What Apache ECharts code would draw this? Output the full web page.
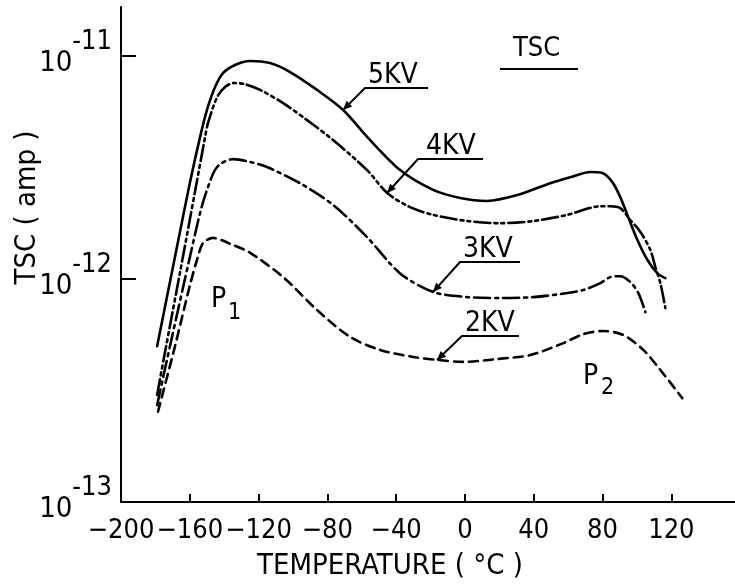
<!DOCTYPE html>
<html>
<head>
<meta charset="utf-8">
<script src="https://cdn.jsdelivr.net/npm/echarts@6/dist/echarts.min.js"></script>
<style>
  html, body { margin: 0; padding: 0; background: #fff; }
  #chart { width: 735px; height: 584px; }
</style>
</head>
<body>
<div id="chart"></div>
<script>
// temperature (deg C) and current (amp)
var t5kv = [-179, -168.6, -160, -154, -150, -145.3, -140.7, -133.7, -125, -113.3, -101.7, -86, -70.8, -56.9, -37.7, -18.5, -2.8, 12.9, 30.4, 49.6, 61.2, 72.9, 79.9, 85.7, 90.3, 94.4, 100.2, 106, 111.9, 116.5];
var i5kv = [5.0e-13, 1.26e-12, 2.69e-12, 4.34e-12, 5.73e-12, 7.26e-12, 8.39e-12, 9.12e-12, 9.5e-12, 9.3e-12, 8.48e-12, 7.05e-12, 5.73e-12, 4.34e-12, 3.08e-12, 2.51e-12, 2.31e-12, 2.24e-12, 2.38e-12, 2.69e-12, 2.86e-12, 3.02e-12, 2.99e-12, 2.72e-12, 2.33e-12, 1.94e-12, 1.50e-12, 1.22e-12, 1.06e-12, 1.01e-12];

var t4kv = [-179, -174.4, -165.7, -156.9, -151.1, -149.4, -144.1, -139.5, -134.8, -127.9, -119.1, -105.7, -91.8, -76.7, -56.9, -45.2, -31.9, -18.5, 1.3, 20.5, 39.7, 59.5, 78.7, 84.5, 90.3, 96.1, 101.9, 107.8, 110.7, 113.6, 116.5];
var i4kv = [3.02e-13, 4.71e-13, 1.07e-12, 2.48e-12, 4.34e-12, 5.01e-12, 6.55e-12, 7.26e-12, 7.57e-12, 7.48e-12, 7.05e-12, 6.15e-12, 5.16e-12, 4.20e-12, 3.08e-12, 2.43e-12, 2.10e-12, 1.94e-12, 1.82e-12, 1.78e-12, 1.82e-12, 1.94e-12, 2.12e-12, 2.12e-12, 2.08e-12, 1.84e-12, 1.63e-12, 1.35e-12, 1.13e-12, 9.6e-13, 7.41e-13];

var t3kv = [-179, -171.5, -159.9, -154, -150, -144.1, -134.8, -124.9, -115.1, -95.9, -76.7, -56.9, -37.7, -18.5, 1.3, 20.5, 39.7, 59.5, 68.8, 78.7, 84.5, 90.3, 96.1, 100.8, 104.9];
var i3kv = [2.72e-13, 5.01e-13, 1.26e-12, 1.98e-12, 2.51e-12, 3.18e-12, 3.45e-12, 3.35e-12, 3.18e-12, 2.69e-12, 2.15e-12, 1.54e-12, 1.06e-12, 8.75e-13, 8.30e-13, 8.22e-13, 8.30e-13, 8.65e-13, 8.93e-13, 9.59e-13, 1.02e-12, 1.03e-12, 9.7e-13, 8.65e-13, 7.11e-13];

var t2kv = [-178.5, -168.6, -159.9, -155.8, -152.3, -146.5, -136.6, -124.9, -105.7, -86, -66.8, -49.3, -30.1, -16.1, -1.0, 18.8, 38, 57.2, 68.8, 80.4, 92.1, 103.7, 113.6, 126.4];
var i2kv = [2.54e-13, 5.0e-13, 9.4e-13, 1.22e-12, 1.45e-12, 1.53e-12, 1.44e-12, 1.31e-12, 1.02e-12, 7.26e-13, 5.5e-13, 4.81e-13, 4.47e-13, 4.34e-13, 4.25e-13, 4.38e-13, 4.56e-13, 5.16e-13, 5.66e-13, 5.85e-13, 5.61e-13, 4.81e-13, 3.91e-13, 2.92e-13];

var xTicks = [-160, -120, -80, -40, 0, 40, 80, 120];
var xLabels = [-200, -160, -120, -80, -40, 0, 40, 80, 120];
var yTicks = [1e-12, 1e-11];
var yLabels = [1e-13, 1e-12, 1e-11];

var FONT = '"DejaVu Sans Condensed", "Liberation Sans Narrow", "DejaVu Sans", sans-serif';

function zip(t, v) {
    return t.map(function (x, i) { return [x, v[i]]; });
}

function curve(name, t, v, dash) {
    return {
        name: name,
        type: 'line',
        smooth: 0.3,
        symbol: 'none',
        silent: true,
        lineStyle: {color: '#000', width: 2.6, type: dash, cap: 'round'},
        data: zip(t, v)
    };
}

function kvLabel(text, tx, ty, x1, x2, tipX, tipY) {
    var dx = tipX - x1, dy = tipY - ty - 26;
    var len = Math.sqrt(dx * dx + dy * dy);
    var ux = dx / len, uy = dy / len;
    return [
        {type: 'text', left: tx, top: ty, style: {text: text, font: '28px ' + FONT, fill: '#000'}},
        {type: 'polyline', shape: {points: [[x2, ty + 26], [x1, ty + 26], [tipX, tipY]]},
            style: {stroke: '#000', lineWidth: 2, fill: null}},
        {type: 'polygon', shape: {points: [[tipX, tipY],
                [tipX - ux * 9 - uy * 4, tipY - uy * 9 + ux * 4],
                [tipX - ux * 9 + uy * 4, tipY - uy * 9 - ux * 4]]},
            style: {fill: '#000'}}
    ];
}

var chart = echarts.init(document.getElementById('chart'));

var graphics = [
    {type: 'text', left: 513, top: 35, style: {text: 'TSC', font: '27px ' + FONT, fill: '#000'}},
    {type: 'line', shape: {x1: 500, y1: 69, x2: 578, y2: 69}, style: {stroke: '#000', lineWidth: 2}},
    {type: 'text', left: 211, top: 286, style: {text: 'P', font: '28px ' + FONT, fill: '#000'}},
    {type: 'text', left: 228, top: 302, style: {text: '1', font: '23px ' + FONT, fill: '#000'}},
    {type: 'text', left: 583, top: 363, style: {text: 'P', font: '28px ' + FONT, fill: '#000'}},
    {type: 'text', left: 601, top: 377, style: {text: '2', font: '23px ' + FONT, fill: '#000'}}
];
graphics = graphics
    .concat(kvLabel('5KV', 368, 62, 365, 428, 343, 110))
    .concat(kvLabel('4KV', 426, 133, 418, 483, 387, 193))
    .concat(kvLabel('3KV', 463, 236, 460, 520, 433, 292))
    .concat(kvLabel('2KV', 465, 310, 462, 519, 437, 360));

var option = {
    animation: false,
    backgroundColor: '#fff',
    grid: {left: 121, right: 0, top: 7, bottom: 82, outerBoundsMode: 'none', containLabel: false},
    xAxis: {
        type: 'value',
        min: -200,
        max: 157,
        interval: 40,
        name: 'TEMPERATURE ( °C )',
        nameLocation: 'middle',
        nameGap: 50,
        nameMoveOverlap: false,
        nameTextStyle: {fontFamily: FONT, fontSize: 29, color: '#000', padding: [0, 76, 0, 0]},
        axisLine: {onZero: false, lineStyle: {color: '#000', width: 2}},
        axisTick: {inside: true, length: 8, lineStyle: {color: '#000', width: 2}, customValues: xTicks},
        axisLabel: {
            fontFamily: FONT, fontSize: 27, color: '#000', margin: 15,
            customValues: xLabels, hideOverlap: false, showMinLabel: true,
            formatter: function (v) { return String(v).replace('-', '\u2212'); }
        },
        splitLine: {show: false}
    },
    yAxis: {
        type: 'log',
        logBase: 10,
        min: 1e-13,
        max: 1.66e-11,
        name: 'TSC ( amp )',
        nameLocation: 'middle',
        nameGap: 79,
        nameMoveOverlap: false,
        nameRotate: 90,
        nameTextStyle: {fontFamily: FONT, fontSize: 29, color: '#000', padding: [0, 0, 0, 94]},
        axisLine: {onZero: false, lineStyle: {color: '#000', width: 2}},
        axisTick: {inside: true, length: 15, lineStyle: {color: '#000', width: 2}, customValues: yTicks},
        axisLabel: {
            margin: 9,
            padding: [14, 0, 0, 0],
            customValues: yLabels, showMinLabel: true,
            formatter: function (v) {
                var e = Math.round(Math.log(v) / Math.LN10);
                return '{b|10}{e|-' + (-e) + '}';
            },
            rich: {
                b: {fontFamily: FONT, fontSize: 29, color: '#000', lineHeight: 70, verticalAlign: 'middle'},
                e: {fontFamily: FONT, fontSize: 27, color: '#000', lineHeight: 26, verticalAlign: 'top'}
            }
        },
        splitLine: {show: false},
        minorTick: {show: false}
    },
    series: [
        curve('5KV', t5kv, i5kv, 'solid'),
        curve('4KV', t4kv, i4kv, [16, 4, 3, 4, 3, 4]),
        curve('3KV', t3kv, i3kv, [16, 5, 3, 5]),
        curve('2KV', t2kv, i2kv, [9, 6])
    ],
    graphic: graphics
};
chart.setOption(option);
</script>
</body>
</html>
